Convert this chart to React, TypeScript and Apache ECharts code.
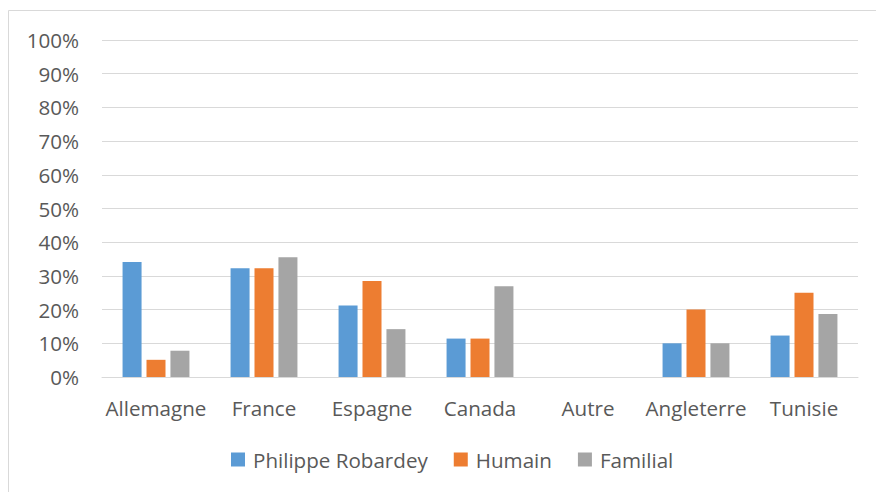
import React, { useEffect, useRef } from "react";
import * as echarts from "echarts";

const categories = ["Allemagne", "France", "Espagne", "Canada", "Autre", "Angleterre", "Tunisie"];
const seriesNames = ["Philippe Robardey", "Humain", "Familial"];
const robardey = [34.1, 32.3, 21.2, 11.4, 0, 10, 12.3];
const humain = [5.1, 32.3, 28.5, 11.4, 0, 20, 25];
const familial = [7.8, 35.5, 14.2, 26.9, 0, 10, 18.7];
const colors = ["#5B9BD5", "#ED7D31", "#A5A5A5"];

const FONT = "'Open Sans', 'Noto Sans', sans-serif";
const FS = 20.6;

export default function App() {
  const ref = useRef<HTMLDivElement>(null);
  useEffect(() => {
    if (!ref.current) return;
    const chart = echarts.init(ref.current, undefined, { renderer: "svg" });
    const data = [robardey, humain, familial];
    chart.setOption({
      animation: false,
      backgroundColor: "#ffffff",
      textStyle: { fontFamily: FONT },
      graphic: [
        {
          type: "rect",
          shape: { x: 8.5, y: 10.5, width: 900, height: 600 },
          style: { fill: "none", stroke: "#D9D9D9", lineWidth: 1 },
          silent: true,
        },
      ],
      grid: { left: 102, right: 18, top: 40, bottom: 115 },
      legend: {
        bottom: 17,
        left: 226,
        itemWidth: 14,
        itemHeight: 14,
        itemGap: 26,
        icon: "rect",
        textStyle: { fontFamily: FONT, fontSize: FS, color: "#595959", padding: [0, 0, 0, 3] },
        data: seriesNames,
      },
      xAxis: {
        type: "category",
        data: categories,
        axisLine: { lineStyle: { color: "#D9D9D9", width: 1 } },
        axisTick: { show: false },
        axisLabel: { fontFamily: FONT, fontSize: FS, color: "#595959", margin: 20, interval: 0 },
      },
      yAxis: {
        type: "value",
        min: 0,
        max: 100,
        interval: 10,
        axisLine: { show: false },
        axisTick: { show: false },
        splitLine: { lineStyle: { color: "#D9D9D9", width: 1 } },
        axisLabel: {
          fontFamily: FONT,
          fontSize: FS,
          color: "#595959",
          margin: 23,
          formatter: (v: number) => `${v}%`,
        },
      },
      series: seriesNames.map((name, i) => ({
        name,
        type: "bar",
        data: data[i],
        barWidth: 19,
        barGap: "26%",
        itemStyle: { color: colors[i] },
      })),
    });
    return () => chart.dispose();
  }, []);
  return (
    <div
      ref={ref}
      style={{ position: "fixed", left: 0, top: 0, width: 876, height: 492 }}
    />
  );
}
